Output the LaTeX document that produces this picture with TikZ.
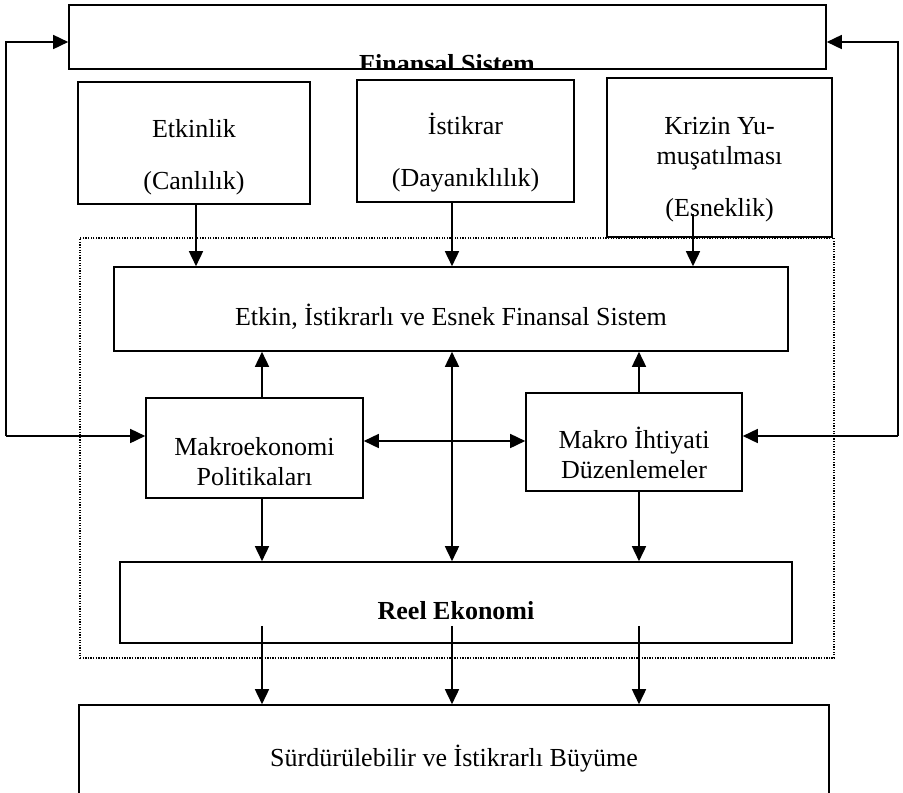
\documentclass[tikz,border=0pt]{standalone}
\usepackage{fontspec}
\setmainfont{Liberation Serif}
\usetikzlibrary{arrows.meta}

\begin{document}
\begin{tikzpicture}[x=1pt, y=-1pt, line width=1.6pt,
	every node/.style={font=\fontsize{26}{30}\selectfont, inner sep=0pt},
	kutu/.style={draw, rectangle},
	yazi/.style={align=center},
	ok/.style={-{Triangle[length=15pt,width=14pt]}},
	cift/.style={{Triangle[length=15pt,width=14pt]}-{Triangle[length=15pt,width=14pt]}},
	noktali/.style={draw, rectangle, line width=1.2pt, dash pattern=on 1.3pt off 1.3pt}]
\useasboundingbox (0,0) rectangle (903,793);

\node[noktali, minimum width=754pt, minimum height=420pt] (cerceve) at (457,448) {};

\node[kutu, minimum width=757pt, minimum height=64pt] (fin) at (447.5,37) {};
\node[kutu, minimum width=232pt, minimum height=122pt] (etk) at (194,143) {};
\node[kutu, minimum width=217pt, minimum height=122pt] (ist) at (465.5,141) {};
\node[kutu, minimum width=225pt, minimum height=159pt] (kriz) at (719.5,157.5) {};
\node[kutu, minimum width=674pt, minimum height=84pt] (etkin) at (451,309) {};
\node[kutu, minimum width=217pt, minimum height=100pt] (makro) at (254.5,448) {};
\node[kutu, minimum width=216pt, minimum height=98pt] (ihti) at (634,442) {};
\node[kutu, minimum width=672pt, minimum height=81pt] (reel) at (456,602.5) {};
\node[kutu, minimum width=750pt, minimum height=108pt] (buyume) at (454,759) {};

\begin{scope}
	\clip (fin.north west) rectangle (fin.south east);
	\node[anchor=base] (fin-y) at (447,72) {\bfseries Finansal Sistem};
\end{scope}
\node[yazi] (etk-y) at ([yshift=-14pt]etk.center) {Etkinlik\\[22pt](Canlılık)};
\node[yazi] (ist-y) at ([yshift=-12pt]ist.center) {İstikrar\\[22pt](Dayanıklılık)};
\node[yazi] (kriz-y) at ([yshift=-12pt]kriz.center) {Krizin Yu-\\muşatılması\\[22pt](Esneklik)};
\node[yazi] (etkin-y) at ([yshift=-8pt]etkin.center) {Etkin, İstikrarlı ve Esnek Finansal Sistem};
\node[yazi] (makro-y) at ([yshift=-14pt]makro.center) {Makroekonomi\\Politikaları};
\node[yazi] (ihti-y) at ([yshift=-11pt]ihti.center) {Makro İhtiyati\\Düzenlemeler};
\node (reel-y) at ([yshift=-8pt]reel.center) {\bfseries Reel Ekonomi};
\node (buyume-y) at (buyume.center) {Sürdürülebilir ve İstikrarlı Büyüme};

\coordinate (u1) at (196,0);
\coordinate (u2) at (452,0);
\coordinate (u3) at (693,0);
\coordinate (c1) at (262,0);
\coordinate (c2) at (452,0);
\coordinate (c3) at (639,0);
\coordinate (ust) at (0,42);
\coordinate (orta) at (0,441);
\coordinate (sol) at (6,436);
\coordinate (sag) at (898,436);
\coordinate (krizalt) at ([yshift=24pt]kriz.south);
\coordinate (reelalt) at ([yshift=18pt]reel.south);

\draw[ok] (sol) |- (fin.west |- ust);
\draw[ok] (sol) -- (makro.west |- sol);
\draw[ok] (sag) |- (fin.east |- ust);
\draw[ok] (sag) -- (ihti.east |- sag);
\draw[cift] (makro.east |- orta) -- (ihti.west |- orta);

\draw[ok] (etk.south -| u1) -- (etkin.north -| u1);
\draw[ok] (ist.south -| u2) -- (etkin.north -| u2);
\draw[ok] (krizalt -| u3) -- (etkin.north -| u3);
\draw[cift] (etkin.south -| c2) -- (reel.north -| c2);
\foreach \k/\c in {makro/c1, ihti/c3} {
	\draw[ok] (\k.north -| \c) -- (etkin.south -| \c);
	\draw[ok] (\k.south -| \c) -- (reel.north -| \c);
}
\foreach \c in {c1,c2,c3}
	\draw[ok] (reelalt -| \c) -- (buyume.north -| \c);
\end{tikzpicture}
\end{document}
